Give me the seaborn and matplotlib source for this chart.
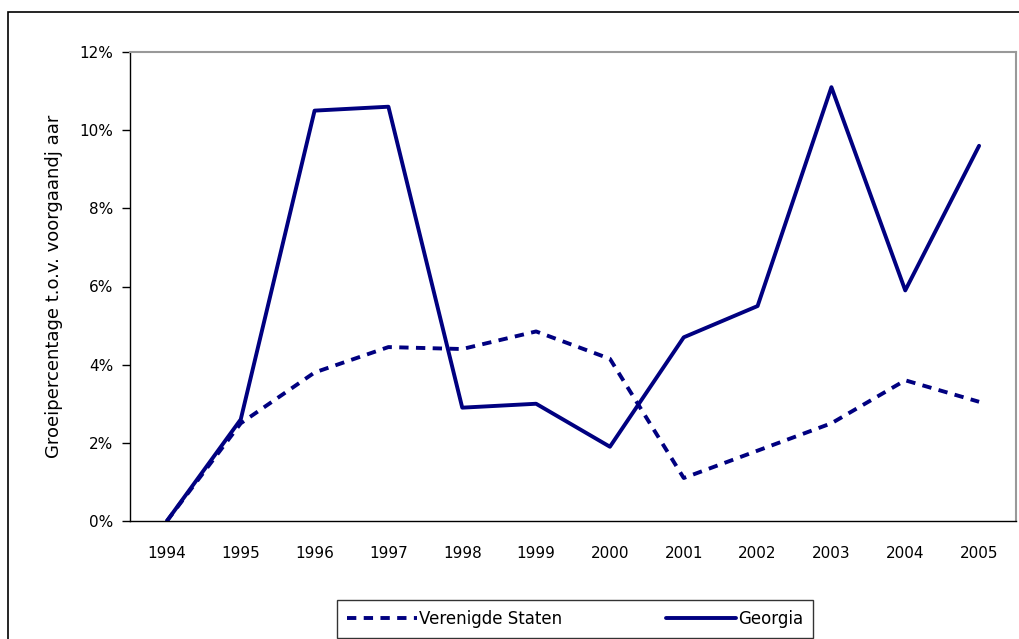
import numpy as np
import pandas as pd
import matplotlib
matplotlib.use("Agg")
import matplotlib.pyplot as plt
import seaborn as sns
from matplotlib.patches import Rectangle
from matplotlib.ticker import FuncFormatter

# Data (growth % vs previous year)
years = ['1994', '1995', '1996', '1997', '1998', '1999', '2000', '2001', '2002', '2003', '2004', '2005']
us_growth = [0.0, 2.5, 3.8, 4.45, 4.4, 4.85, 4.15, 1.1, 1.8, 2.5, 3.6, 3.05]
georgia_growth = [0.0, 2.6, 10.5, 10.6, 2.9, 3.0, 1.9, 4.7, 5.5, 11.1, 5.9, 9.6]
series_names = ['Verenigde Staten', 'Georgia']

df = pd.DataFrame({
    'jaar': years * 2,
    'groei': us_growth + georgia_growth,
    'land': [series_names[0]] * len(years) + [series_names[1]] * len(years),
})
df['pos'] = df['jaar'].map({y: i for i, y in enumerate(years)})

sns.set_style('white')
plt.rcParams['font.family'] = ['DejaVu Sans']
plt.rcParams['text.color'] = 'black'
plt.rcParams['axes.labelcolor'] = 'black'
plt.rcParams['xtick.color'] = 'black'
plt.rcParams['ytick.color'] = 'black'

navy = '#000080'
us_dash = (2.4, 1.9)
fig = plt.figure(figsize=(10.19, 6.39), dpi=100)
ax = fig.add_axes([130 / 1019, 1 - 521 / 639, (1016 - 130) / 1019, (521 - 52) / 639])

sns.lineplot(data=df, x='pos', y='groei', hue='land', style='land',
             palette=[navy, navy], dashes={series_names[0]: us_dash, series_names[1]: ''},
             linewidth=2.8, ax=ax, legend=False)

ax.set_xlim(-0.5, len(years) - 0.5)
ax.set_ylim(0, 12)
ax.set_yticks(np.arange(0, 13, 2))
ax.yaxis.set_major_formatter(FuncFormatter(lambda v, p: f'{v:.0f}%'))

ax.set_xticks(range(len(years)))
ax.set_xticklabels(years)
ax.set_xticks(np.arange(-0.5, len(years), 1), minor=True)
ax.tick_params(axis='x', which='major', length=0, pad=18, labelsize=11)
ax.tick_params(axis='x', which='minor', length=6, width=1, color='black', direction='out')
ax.tick_params(axis='y', length=6, width=1, color='black', direction='out', pad=6, labelsize=11, left=True)

for side in ['top', 'right']:
    ax.spines[side].set_color('#999999')
    ax.spines[side].set_linewidth(1.5)
for side in ['left', 'bottom']:
    ax.spines[side].set_color('black')
    ax.spines[side].set_linewidth(1)

ax.set_xlabel('')
ax.set_ylabel('Groeipercentage t.o.v. voorgaandj aar', fontsize=13, labelpad=12)

# legend at the bottom
handles = [plt.Line2D([], [], color=navy, lw=2.8, dashes=us_dash),
           plt.Line2D([], [], color=navy, lw=2.8)]
leg = fig.legend(handles, series_names, ncol=2, loc='center',
                 bbox_to_anchor=(575 / 1019, 1 - 619 / 639), frameon=True,
                 fancybox=False, edgecolor='black', fontsize=12,
                 handlelength=4.2, handletextpad=0.15, columnspacing=6.2,
                 borderpad=0.6, borderaxespad=0)
leg.get_frame().set_linewidth(1)

# outer chart border
fig.patches.append(Rectangle((8 / 1019, -0.05), 1.1, 1 - 12 / 639 + 0.05,
                             transform=fig.transFigure, fill=False,
                             edgecolor='black', linewidth=1.2))

fig.savefig('out.png', dpi=100)
